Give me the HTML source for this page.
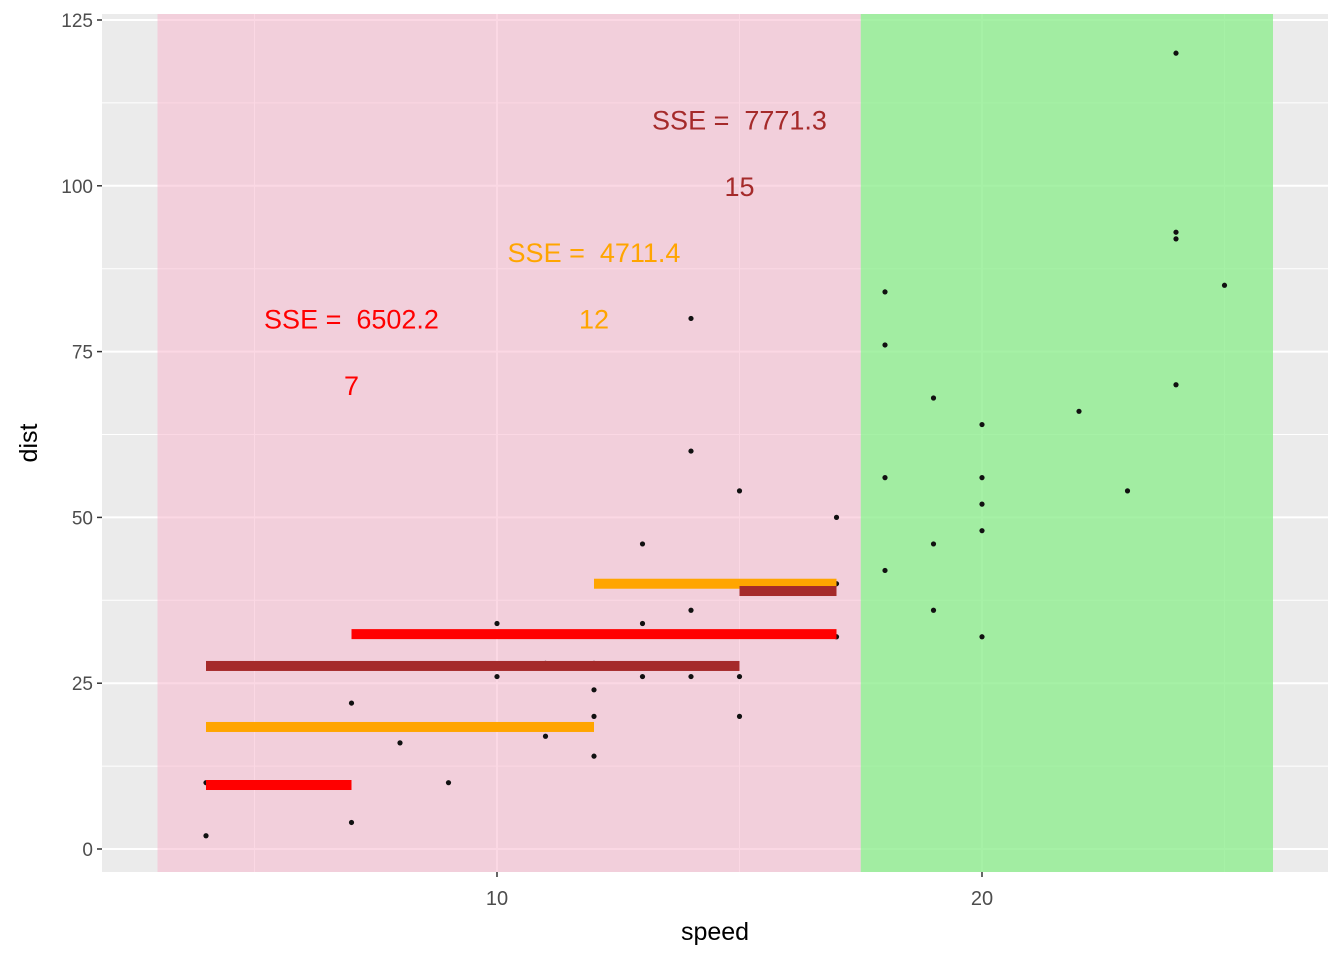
<!DOCTYPE html>
<html><head><meta charset="utf-8"><style>
body{margin:0;background:#fff}
svg{display:block;font-family:"Liberation Sans",sans-serif}
text{white-space:pre}
</style></head><body>
<svg id="c" width="1344" height="960"></svg>
<script>
const speeds=[4,4,7,7,8,9,10,10,11,11,12,12,12,12,13,13,13,14,14,14,14,15,15,15,17,17,17,18,18,18,18,19,19,19,20,20,20,20,20,22,23,24,24,24,24,25];
const dists=[2,10,22,4,16,10,34,26,28,17,28,24,20,14,46,34,26,80,60,36,26,54,26,20,50,40,32,84,76,56,42,68,46,36,64,56,52,48,32,66,54,120,93,92,70,85];
const segStart=[4,7,4,12,4,15];
const segEnd=[7,17,12,17,15,17];
const segVal=[9.65,32.4,18.4,40,27.6,38.9];
const segColor=['#FF0000','#FF0000','#FFA500','#FFA500','#A52A2A','#A52A2A'];
const labelX=[15,12,7];
const labelY=[110,90,80];
const labelText=['SSE =  7771.3','SSE =  4711.4','SSE =  6502.2'];
const labelK=['15','12','7'];
const labelColor=['#A52A2A','#FFA500','#FF0000'];
const regions=[[3,17.5,'rgba(248,184,205,0.55)'],[17.5,26,'rgba(144,238,144,0.8)']];
const yTicks=[0,25,50,75,100,125];
const xTicks=[10,20];

const L=102,R=1328,T=14,B=872;
const x=s=>497+(s-10)*48.5;
const y=d=>849-d*6.632;
const svg=document.getElementById('c');
const NS='http://www.w3.org/2000/svg';
function mk(tag,attrs,parent){const e=document.createElementNS(NS,tag);for(const k in attrs)e.setAttribute(k,attrs[k]);(parent||svg).appendChild(e);return e;}

const bg=mk('rect',{x:L,y:T,width:R-L,height:B-T,fill:'#EBEBEB'});


for(let v=12.5;v<=125;v+=25){const l=mk('line',{x1:L,x2:R,y1:y(v),y2:y(v),stroke:'#fff','stroke-width':1});

}
[5,15,25].forEach(v=>{const l=mk('line',{x1:x(v),x2:x(v),y1:T,y2:B,stroke:'#fff','stroke-width':1});

});
yTicks.forEach(v=>{const l=mk('line',{x1:L,x2:R,y1:y(v),y2:y(v),stroke:'#fff','stroke-width':2});

});
xTicks.forEach(v=>{const l=mk('line',{x1:x(v),x2:x(v),y1:T,y2:B,stroke:'#fff','stroke-width':2});

});
regions.forEach((r,i)=>{const e=mk('rect',{x:x(r[0]),y:T,width:x(r[1])-x(r[0]),height:B-T,fill:r[2]});

});
speeds.forEach((s,i)=>{const p=mk('circle',{cx:x(s),cy:y(dists[i]),r:2.6,fill:'#111'});

});
segStart.forEach((s,i)=>{const r=mk('rect',{x:x(s),y:y(segVal[i])-5,width:x(segEnd[i])-x(s),height:10,fill:segColor[i]});

});
labelX.forEach((s,i)=>{
const t=mk('text',{x:x(s),y:y(labelY[i])+10,'text-anchor':'middle','font-size':27,fill:labelColor[i]});t.textContent=labelText[i];


const k=mk('text',{x:x(s),y:y(labelY[i]-10)+10,'text-anchor':'middle','font-size':27,fill:labelColor[i]});k.textContent=labelK[i];

});
yTicks.forEach(v=>{mk('line',{x1:L-5,x2:L,y1:y(v),y2:y(v),stroke:'#333','stroke-width':1.5});
const t=mk('text',{x:L-9,y:y(v)+7,'text-anchor':'end','font-size':19,fill:'#4D4D4D'});t.textContent=v;

});
xTicks.forEach(v=>{mk('line',{x1:x(v),x2:x(v),y1:B,y2:B+5,stroke:'#333','stroke-width':1.5});
const t=mk('text',{x:x(v),y:B+33,'text-anchor':'middle','font-size':20,fill:'#4D4D4D'});t.textContent=v;

});
const xt=mk('text',{x:(L+R)/2,y:940,'text-anchor':'middle','font-size':25,fill:'#000'});xt.textContent='speed';


const yt=mk('text',{x:37,y:(T+B)/2,'text-anchor':'middle','font-size':25,fill:'#000',transform:`rotate(-90 37 ${(T+B)/2})`});yt.textContent='dist';


</script>
</body></html>
